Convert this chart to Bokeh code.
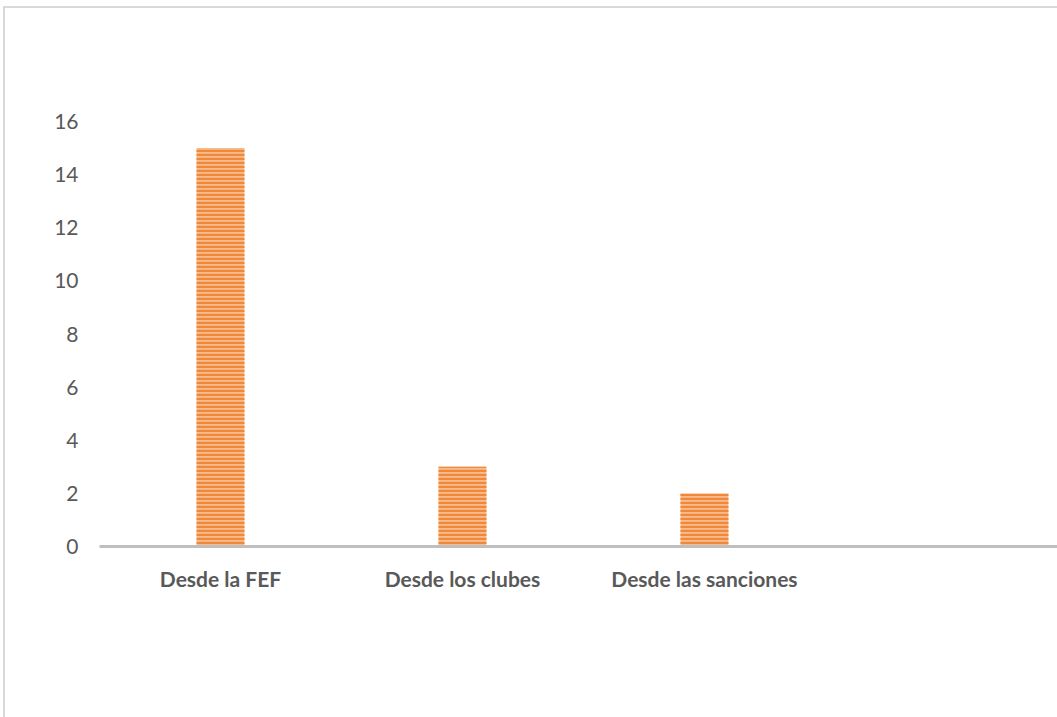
from bokeh.plotting import figure
from bokeh.models import Range1d, FixedTicker, ColumnDataSource, InlineStyleSheet
from bokeh.embed import file_html
from bokeh.resources import INLINE

categories = ["Desde la FEF", "Desde los clubes", "Desde las sanciones"]
values = [15, 3, 2]
y_ticks = [0, 2, 4, 6, 8, 10, 12, 14, 16]

xs = [i + 0.5 for i in range(len(categories))]
src = ColumnDataSource(dict(x=xs, top=values))

p = figure(width=1057, height=717, output_backend="svg", toolbar_location=None,
           x_range=Range1d(0, 3.959), y_range=Range1d(0, 16),
           min_border_left=99, min_border_right=0, min_border_top=121, min_border_bottom=171)

p.vbar(x="x", top="top", bottom=0, width=0.198, source=src,
       fill_color="#F8BC8E", line_color=None,
       hatch_pattern="horizontal_line", hatch_color="#F0883A", hatch_scale=4, hatch_weight=2.4)

p.grid.visible = False
p.outline_line_color = None
p.background_fill_color = "white"
p.border_fill_color = "white"

xa = p.xaxis[0]
xa.ticker = FixedTicker(ticks=xs)
xa.major_label_overrides = {x: c for x, c in zip(xs, categories)}
xa.major_tick_line_color = None
xa.minor_tick_line_color = None
xa.axis_line_color = "#BFBFBF"
xa.axis_line_width = 3
xa.major_label_text_font = "Lato"
xa.major_label_text_font_style = "bold"
xa.major_label_text_font_size = "21px"
xa.major_label_text_color = "#595959"
xa.major_label_standoff = 13

ya = p.yaxis[0]
ya.ticker = FixedTicker(ticks=y_ticks)
ya.axis_line_color = None
ya.major_tick_line_color = None
ya.minor_tick_line_color = None
ya.major_label_text_font = "Lato"
ya.major_label_text_font_size = "21px"
ya.major_label_text_color = "#595959"
ya.major_label_standoff = 15

p.stylesheets = [InlineStyleSheet(css="""
:host { position: relative; }
:host::after { content: ""; position: absolute; left: 3px; top: 6px;
  width: 3000px; height: 3000px; border-left: 2px solid #D9D9D9;
  border-top: 2px solid #D9D9D9; pointer-events: none; }
""")]

open("out.html", "w").write(file_html(p, INLINE))
